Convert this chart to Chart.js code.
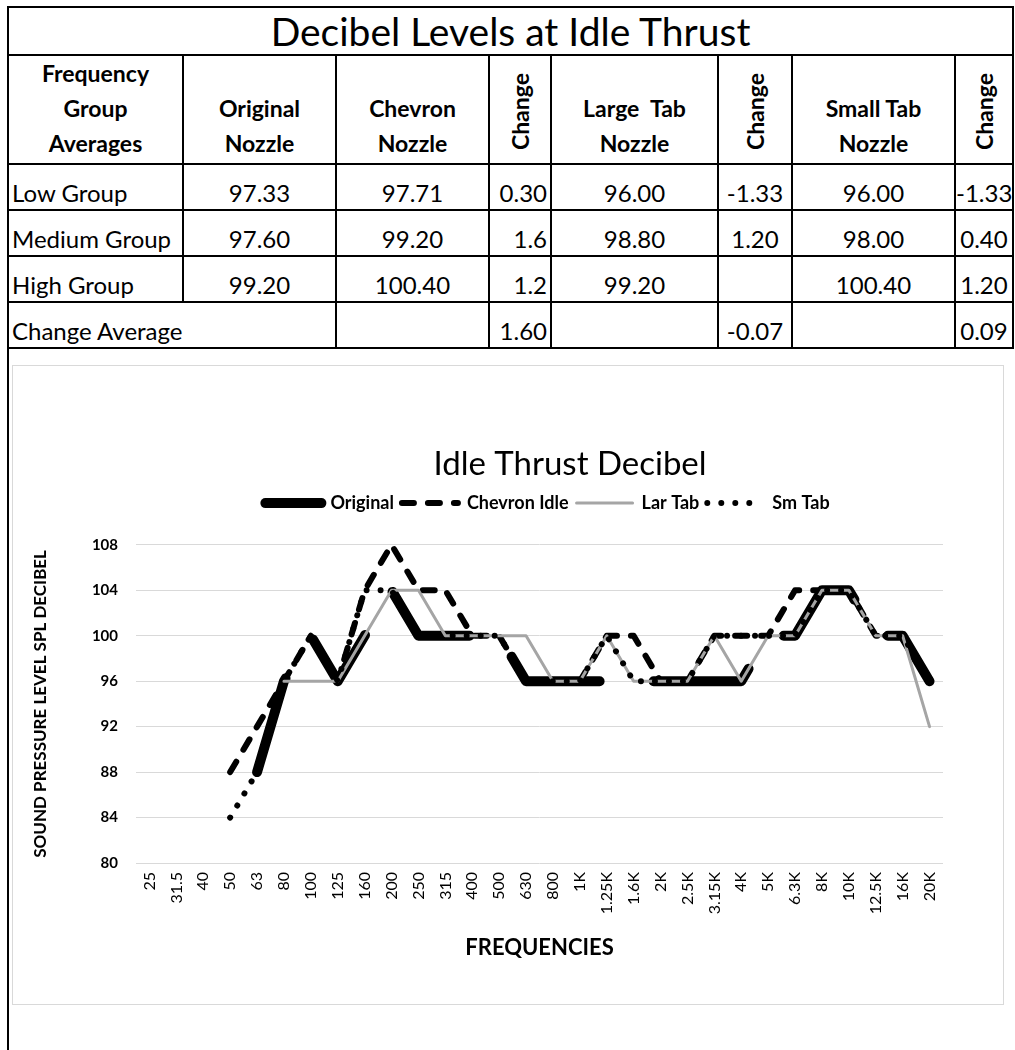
<!DOCTYPE html>
<html>
<head>
<meta charset="utf-8">
<script src="https://cdn.jsdelivr.net/npm/chart.js@4.4.1/dist/chart.umd.min.js"></script>
<style>
    html, body { margin: 0; padding: 0; background: #fff; }
    body { width: 1015px; height: 1050px; overflow: hidden; position: relative; font-family: Lato, sans-serif; }
    #summary { position: absolute; left: 7px; top: 6px; width: 1005px; border-collapse: collapse; table-layout: fixed; color: #000; }
    #summary td, #summary th { border: 2px solid #000; padding: 0 3px 2px 3px; white-space: nowrap; overflow: hidden; }
    #summary tr.title td { height: 43px; font-size: 39px; text-align: center; vertical-align: middle; padding: 0; }
    #summary tr.head th { height: 102px; font-size: 23px; line-height: 35px; font-weight: bold; text-align: center; vertical-align: bottom; }
    #summary tr.head th.rot div { display: inline-block; writing-mode: vertical-rl; transform: rotate(180deg); font-size: 23px; line-height: 26px; margin-bottom: 2px; }
    #summary tr.row td { height: 42px; font-size: 24px; text-align: center; vertical-align: bottom; }
    #summary tr.row td.name { text-align: left; }
    #summary tr.row td.right { text-align: right; }
    #summary tr.row td:last-child { padding-left: 0; padding-right: 0; }
    #leftLine { position: absolute; left: 7px; top: 343px; width: 2px; height: 707px; background: #000; }
    #chartBox { position: absolute; left: 12px; top: 365px; width: 990px; height: 638px; border: 1px solid #d9d9d9; overflow: hidden; }
    #chartBox canvas { display: block; }
</style>
</head>
<body>
<table id="summary">
    <colgroup>
        <col style="width:175px"><col style="width:153px"><col style="width:153px"><col style="width:62px">
        <col style="width:167px"><col style="width:74px"><col style="width:163px"><col style="width:58px">
    </colgroup>
    <tbody id="summaryBody"></tbody>
</table>
<div id="leftLine"></div>
<div id="chartBox"><canvas id="idleChart" width="1114" height="638"></canvas></div>

<script>
// tabel ringkasan
const groupNames = ['Low Group', 'Medium Group', 'High Group'];
const originalAvg = ['97.33', '97.60', '99.20'];
const chevronAvg = ['97.71', '99.20', '100.40'];
const chevronChange = ['0.30', '1.6', '1.2'];
const largeTabAvg = ['96.00', '98.80', '99.20'];
const largeTabChange = ['-1.33', '1.20', ''];
const smallTabAvg = ['96.00', '98.00', '100.40'];
const smallTabChange = ['-1.33', '0.40', '1.20'];
const changeAverage = ['1.60', '-0.07', '0.09'];

// data grafik
const freqLabels = ['25', '31.5', '40', '50', '63', '80', '100', '125', '160', '200', '250', '315', '400', '500', '630', '800', '1K', '1.25K', '1.6K', '2K', '2.5K', '3.15K', '4K', '5K', '6.3K', '8K', '10K', '12.5K', '16K', '20K'];
const originalDb = [null, null, null, null, 88, 96, 100, 96, 100, 104, 100, 100, 100, 100, 96, 96, 96, 96, 96, 96, 96, 96, 96, 100, 100, 104, 104, 100, 100, 96];
const chevronDb = [null, null, null, 88, 92, 96, 100, 96, 104, 108, 104, 104, 100, 100, 96, 96, 96, 100, 100, 96, 96, 100, 100, 100, 104, 104, 104, 100, 100, 96];
const largeTabDb = [null, null, null, null, null, 96, 96, 96, 100, 104, 104, 100, 100, 100, 100, 96, 96, 100, 96, 96, 96, 100, 96, 100, 100, 104, 104, 100, 100, 92];
const smallTabDb = [null, null, null, 84, 88, 96, 100, 96, 104, 104, 100, 100, 100, 100, 96, 96, 96, 100, 96, 96, 96, 100, 100, 100, 100, 104, 104, 100, 100, 96];
const yMin = 80;
const yMax = 108;
const yStep = 4;

document.addEventListener('DOMContentLoaded', function() {
    const body = document.getElementById('summaryBody');
    let html = '<tr class="title"><td colspan="8">Decibel Levels at Idle Thrust</td></tr>';
    html += '<tr class="head"><th>Frequency<br>Group<br>Averages</th><th>Original<br>Nozzle</th><th>Chevron<br>Nozzle</th>' +
        '<th class="rot"><div>Change</div></th><th>Large&nbsp; Tab<br>Nozzle</th><th class="rot"><div>Change</div></th>' +
        '<th>Small Tab<br>Nozzle</th><th class="rot"><div>Change</div></th></tr>';
    groupNames.forEach((name, i) => {
        html += '<tr class="row"><td class="name">' + name + '</td><td>' + originalAvg[i] + '</td><td>' + chevronAvg[i] + '</td>' +
            '<td class="right">' + chevronChange[i] + '</td><td>' + largeTabAvg[i] + '</td><td>' + largeTabChange[i] + '</td>' +
            '<td>' + smallTabAvg[i] + '</td><td>' + smallTabChange[i] + '</td></tr>';
    });
    html += '<tr class="row"><td class="name" colspan="2">Change Average</td><td></td><td class="right">' + changeAverage[0] +
        '</td><td></td><td>' + changeAverage[1] + '</td><td></td><td>' + changeAverage[2] + '</td></tr>';
    body.innerHTML = html;

    if (typeof Chart === 'undefined') return;

    const fontFamily = 'Lato, sans-serif';
    const line = (label, data, color, width, dash, dashOffset, order) => ({
        label, data, order,
        borderColor: color,
        backgroundColor: color,
        borderWidth: width,
        borderDash: dash,
        borderDashOffset: dashOffset,
        borderCapStyle: 'round',
        borderJoinStyle: 'round',
        pointRadius: 0,
        pointHoverRadius: 0,
        tension: 0,
        fill: false
    });

    // geser judul & legend supaya posisinya sama dengan gambar asli
    const shiftBlocks = {
        id: 'shiftBlocks',
        afterLayout(chart) {
            const t = chart.titleBlock;
            if (t) { t.left = 0; t.right = chart.width; }
            const lg = chart.legend;
            if (lg) { lg.left += 8; lg.right += 8; }
        }
    };

    new Chart(document.getElementById('idleChart'), {
        type: 'line',
        data: {
            labels: freqLabels,
            datasets: [
                line('Original', originalDb, '#000000', 10, [102, 54], 4, 4),
                line('Chevron Idle', chevronDb, '#000000', 6, [12, 14], 0, 3),
                line('Lar Tab', largeTabDb, '#a5a5a5', 3, [], 0, 2),
                line('Sm Tab', smallTabDb, '#000000', 6, [0.001, 14], 0, 1)
            ]
        },
        plugins: [shiftBlocks],
        options: {
            responsive: false,
            animation: false,
            devicePixelRatio: 1,
            layout: { padding: { left: 0, right: 184, top: 0, bottom: 0 } },
            plugins: {
                tooltip: { enabled: false },
                title: {
                    display: true,
                    text: 'Idle Thrust Decibel',
                    color: '#000',
                    font: { family: fontFamily, size: 33, weight: 'normal' },
                    padding: { top: 79, bottom: 1.5 }
                },
                // spasi kosong antara legend dan area plot
                subtitle: {
                    display: true,
                    text: '',
                    weight: 500,
                    font: { size: 10 },
                    padding: { top: 10.7, bottom: 0 }
                },
                legend: {
                    position: 'top',
                    fullSize: false,
                    labels: {
                        usePointStyle: true,
                        pointStyleWidth: 56,
                        padding: 8,
                        color: '#000',
                        font: { family: fontFamily, size: 18, weight: 'bold' },
                        generateLabels: chart => chart.data.datasets.map((ds, i) => ({
                            text: ds.label,
                            datasetIndex: i,
                            hidden: false,
                            fontColor: '#000',
                            strokeStyle: ds.borderColor,
                            fillStyle: ds.borderColor,
                            lineWidth: ds.borderWidth,
                            lineDash: ds.borderDash,
                            lineDashOffset: ds.borderDashOffset,
                            lineCap: 'round',
                            pointStyle: 'line'
                        }))
                    }
                }
            },
            scales: {
                x: {
                    offset: true,
                    afterFit: scale => { scale.height = 141; },
                    grid: { display: false, drawTicks: false },
                    border: { display: false },
                    ticks: {
                        autoSkip: false,
                        maxRotation: 90,
                        minRotation: 90,
                        padding: 9,
                        color: '#000',
                        font: { family: fontFamily, size: 16 }
                    },
                    title: {
                        display: true,
                        text: 'FREQUENCIES',
                        color: '#000',
                        font: { family: fontFamily, size: 22, weight: 'bold' },
                        padding: { top: 0, bottom: 43 }
                    }
                },
                y: {
                    min: yMin,
                    max: yMax,
                    afterFit: scale => { scale.width = 123; },
                    grid: { color: '#d9d9d9', lineWidth: 1, drawTicks: false },
                    border: { display: false },
                    ticks: {
                        stepSize: yStep,
                        padding: 18,
                        color: '#000',
                        font: { family: fontFamily, size: 15, weight: 'bold' }
                    },
                    title: {
                        display: true,
                        text: 'SOUND PRESSURE LEVEL SPL DECIBEL',
                        color: '#000',
                        font: { family: fontFamily, size: 17, weight: 'bold' },
                        padding: { top: 17, bottom: 0 }
                    }
                }
            }
        }
    });
});
</script>
</body>
</html>
